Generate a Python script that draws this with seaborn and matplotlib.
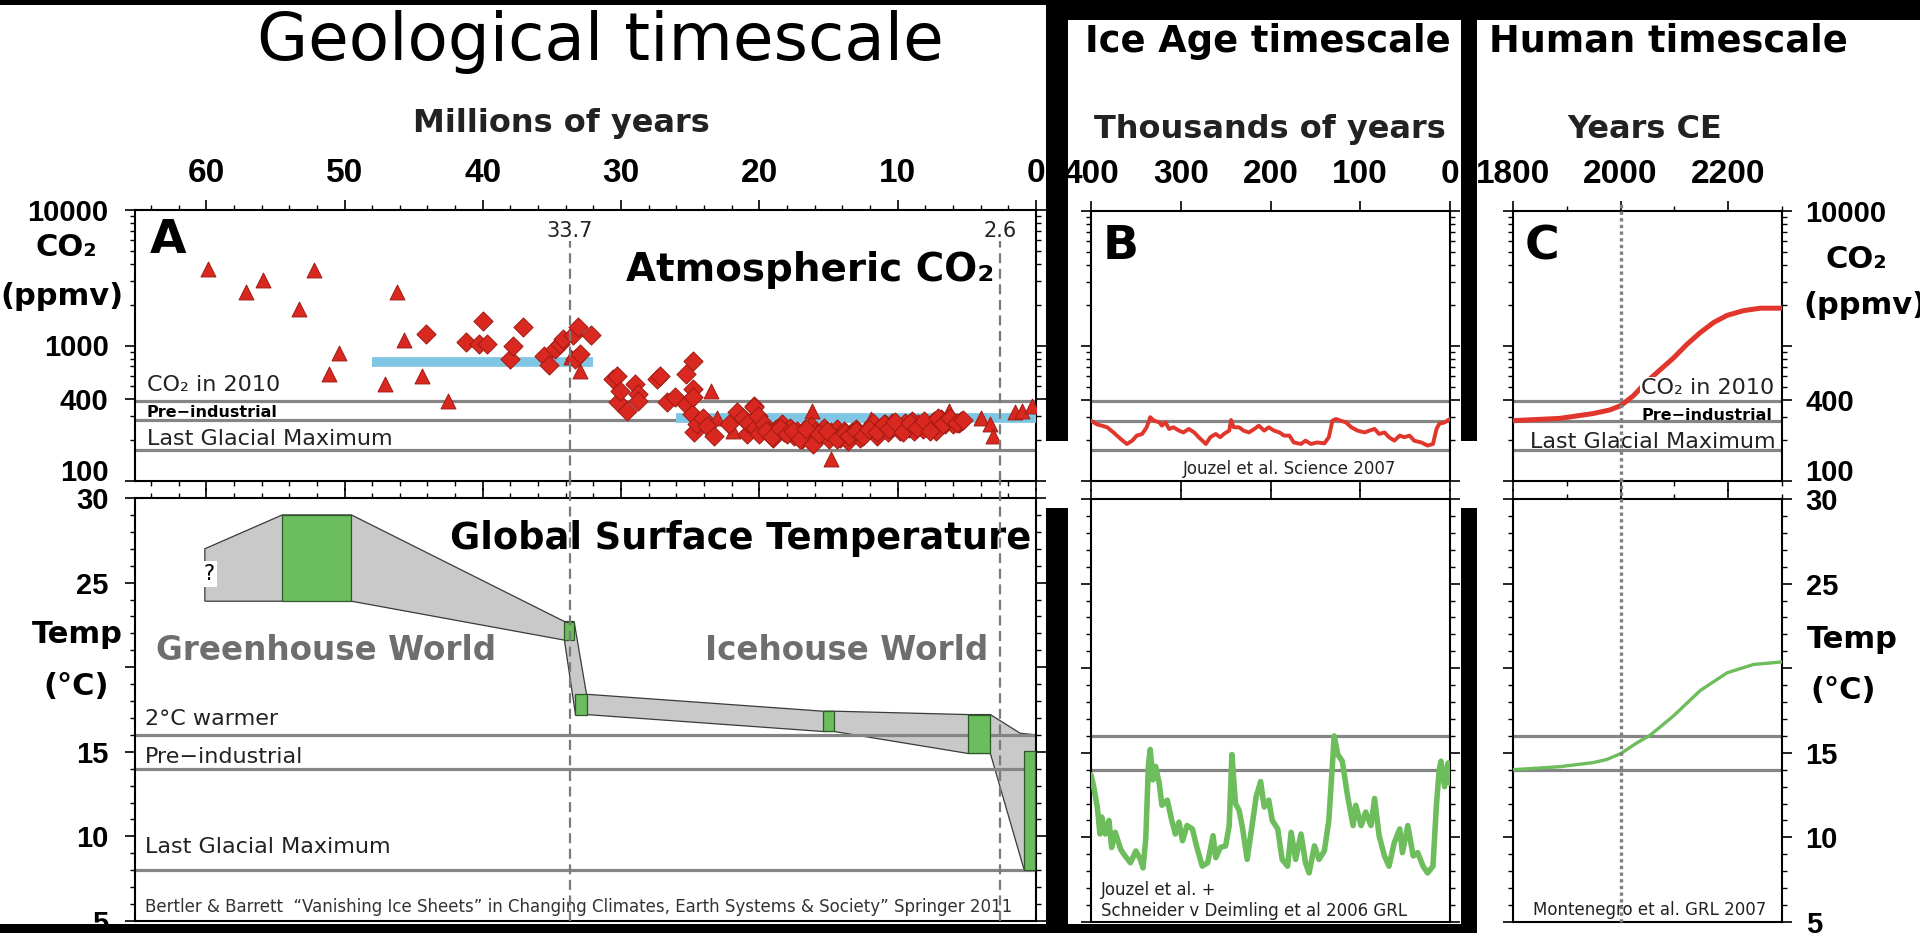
import numpy as np
import matplotlib
matplotlib.use("Agg")
import matplotlib.pyplot as plt
import seaborn as sns
from matplotlib.patches import Rectangle
from matplotlib.ticker import (FixedLocator, FixedFormatter, LogLocator,
                               MultipleLocator, NullFormatter)

sns.set_theme(style="ticks")
plt.rcParams["font.family"] = ["DejaVu Sans"]
plt.rcParams["axes.linewidth"] = 1.5
plt.rcParams["axes.edgecolor"] = "black"
plt.rcParams["text.color"] = "black"
plt.rcParams["xtick.color"] = "black"
plt.rcParams["ytick.color"] = "black"

W, H = 1920, 933
RED = "#d9281f"
RED_EDGE = "#a01a14"
BLUE = "#7fc6e4"
GREEN = "#6cbd5e"
GRAY_LINE = "#858585"
TICK_FONT = "Liberation Sans"

# ---------------- data ----------------
# Panel A - CO2 proxies (Myr before present, ppmv)
tri_age = [59.9, 57.1, 55.9, 53.3, 52.2, 51.1, 50.4, 47.1, 46.2, 45.7, 44.4, 42.5,
           33.6, 33.0, 23.5, 23.1, 21.9, 16.2, 14.8, 11.9, 6.3, 4.0, 3.3, 3.1,
           1.5, 1.0, 0.3]
tri_co2 = [3640, 2480, 3030, 1850, 3590, 620, 880, 520, 2480, 1090, 600, 390,
           820, 650, 464, 294, 234, 330, 145, 285, 330, 294, 263, 215,
           321, 330, 359]

dia_age = [44.1, 41.2, 40.3, 40.0, 39.7, 38.0, 37.8, 37.1, 35.6, 35.2, 34.8, 34.4,
           34.2, 33.5, 33.3, 33.1, 33.0, 32.2,
           30.6, 30.3, 30.2, 30.1, 29.6, 29.0, 28.8, 28.8, 27.4, 27.2, 26.7, 26.1,
           25.3, 25.3, 24.9, 24.8, 24.8, 24.8, 24.7, 24.5, 24.1, 23.8, 23.3, 22.2,
           21.6, 21.0, 20.9, 20.4, 20.2,
           21.2, 20.8, 20.4, 20.3, 20.1, 20.0, 19.7, 19.4, 19.0, 18.8, 18.4, 18.2,
           17.8, 17.5, 17.3, 16.9, 16.7, 16.3, 16.2, 16.0, 15.6, 15.3, 15.0, 14.8,
           14.4, 14.2, 13.9, 13.6, 13.3, 13.0, 12.7, 12.4, 12.0, 11.8, 11.5, 11.3,
           10.9, 10.7, 10.4, 10.1, 9.8, 9.5, 9.2, 9.0, 8.8, 8.5, 8.2, 7.8,
           7.4, 7.2, 6.9, 6.6, 6.3, 6.0, 5.6, 5.4,
           19.5, 19.1, 18.5, 18.0, 17.6, 17.1, 16.6, 16.1, 15.7, 15.1, 14.4, 13.8,
           13.5, 13.0, 12.5, 12.1, 11.5, 11.0, 10.6, 10.2, 9.6, 9.1, 8.6, 8.1,
           7.7, 7.1, 6.7, 6.2, 5.7, 5.3]
dia_co2 = [1220, 1060, 1030, 1510, 1020, 800, 1000, 1370, 830, 720, 950, 1030,
           1120, 1190, 800, 1370, 870, 1190,
           567, 600, 380, 464, 330, 520, 439, 391, 567, 600, 380, 414,
           617, 370, 312, 774, 478, 414, 228, 263, 294, 255, 215, 263,
           321, 278, 222, 359, 303,
           294, 270, 349, 248, 303, 222, 263, 235, 209, 241, 263, 228,
           248, 215, 235, 204, 241, 256, 198, 228, 215, 248, 204, 228,
           241, 209, 235, 198, 228, 241, 209, 228, 248, 270, 215, 248,
           263, 228, 270, 256, 235, 270, 248, 278, 235, 263, 241, 256,
           278, 235, 286, 263, 286, 263, 270, 278,
           235, 212, 248, 222, 232, 203, 241, 187, 224, 235, 203, 226,
           215, 235, 215, 244, 228, 263, 241, 272, 228, 266, 248, 278,
           235, 290, 263, 294, 270, 282]

bar_start = [48.0, 26.0]
bar_end = [32.0, 0.0]
bar_co2 = [760, 290]

co2_ref = [390, 280, 170]
temp_ref = [16, 14, 8]
event_age = [33.7, 2.6]

# Panel A - temperature envelope and estimate boxes (Myr, deg C)
band_up_age = [60.1, 54.5, 49.5, 34.1, 33.4, 32.5, 15.4, 14.6, 4.9, 3.3, 1.15, 0.0]
band_up_temp = [27.0, 29.0, 29.0, 22.7, 22.7, 18.4, 17.4, 17.4, 17.2, 17.2, 16.1, 16.0]
band_lo_age = [60.1, 54.5, 49.5, 34.1, 33.3, 32.5, 15.4, 14.6, 4.9, 3.3, 0.85, 0.0]
band_lo_temp = [23.9, 23.9, 23.9, 21.6, 17.2, 17.2, 16.2, 16.2, 14.9, 14.9, 8.0, 8.0]

box_old = [54.5, 34.1, 33.3, 15.4, 4.9, 0.85]
box_young = [49.5, 33.4, 32.5, 14.6, 3.3, 0.05]
box_low = [23.9, 21.6, 17.2, 16.2, 14.9, 8.0]
box_high = [29.0, 22.7, 18.4, 17.4, 17.2, 15.05]

# Panel B - ice core (thousands of years, ppmv / deg C)
b_co2_age = [400, 393, 388, 382, 375, 367, 360, 354, 349, 343, 338, 334, 330, 324,
             321, 317, 313, 308, 302, 297, 291, 285, 280, 272, 267, 261, 256, 252,
             246, 244, 241, 235, 230, 224, 218, 213, 207, 202, 196, 190, 185, 179,
             174, 166, 161, 155, 148, 140, 135, 131, 127, 122, 116, 110, 103, 95,
             90, 84, 79, 73, 68, 62, 56, 51, 45, 40, 32, 25, 19, 15, 12, 6, 0]
b_co2_ppm = [280, 262, 257, 250, 229, 205, 188, 199, 217, 223, 250, 297, 280, 272,
             257, 272, 243, 250, 236, 229, 243, 229, 211, 188, 211, 223, 211, 223,
             236, 283, 250, 250, 236, 229, 243, 257, 236, 250, 236, 229, 217, 217,
             193, 188, 199, 188, 193, 190, 211, 280, 288, 280, 272, 250, 236, 229,
             236, 243, 223, 229, 211, 199, 217, 211, 217, 199, 193, 183, 188, 243,
             265, 272, 288]

b_t_age = [400, 397, 393, 390, 388, 384, 380, 377, 373, 367, 362, 356, 350, 345,
           342, 339, 336, 334, 331, 328, 324, 321, 315, 310, 306, 302, 298, 293,
           287, 282, 276, 270, 264, 261, 256, 250, 246, 243, 239, 235, 231, 226,
           220, 216, 211, 207, 202, 198, 192, 187, 181, 177, 172, 166, 161, 157,
           151, 146, 140, 135, 129, 125, 120, 114, 108, 105, 99, 94, 88, 84,
           79, 73, 68, 62, 56, 53, 47, 41, 36, 30, 25, 19, 15, 12, 10, 6, 2, 0]
b_temp = [13.7, 13.0, 11.8, 10.2, 11.2, 10.2, 11.0, 9.4, 10.3, 9.3, 8.9, 8.5, 9.2, 8.7,
          8.2, 9.9, 14.3, 15.2, 13.4, 14.2, 13.2, 11.9, 12.2, 11.0, 10.2, 10.9, 9.8, 10.7,
          10.5, 9.4, 8.3, 8.5, 10.1, 8.8, 9.4, 9.5, 10.7, 14.9, 12.0, 11.6, 10.5, 8.7,
          10.9, 12.4, 13.3, 11.8, 12.2, 11.0, 10.5, 8.7, 8.3, 10.3, 8.7, 10.2, 8.5, 7.9,
          9.5, 8.7, 9.2, 11.0, 16.0, 14.9, 14.5, 12.4, 10.7, 11.9, 10.7, 11.5, 10.7, 12.3,
          10.1, 8.9, 8.3, 9.7, 10.5, 9.1, 10.7, 8.9, 9.1, 8.3, 7.9, 8.3, 12.0, 14.0,
          14.5, 13.0, 14.4, 13.2]

# Panel C - projection (years CE)
c_year = [1800, 1887, 1949, 1980, 2000, 2024, 2048, 2073, 2098, 2123, 2148, 2173,
          2198, 2229, 2260, 2300]
c_co2 = [280, 291, 316, 336, 361, 429, 541, 664, 813, 1026, 1257, 1494,
         1687, 1830, 1906, 1906]
c_t_year = [1800, 1887, 1949, 1974, 2000, 2030, 2055, 2098, 2148, 2198, 2247, 2300]
c_temp = [14.0, 14.18, 14.42, 14.6, 14.95, 15.58, 16.04, 17.17, 18.68, 19.73, 20.22, 20.37]


# ---------------- helpers ----------------
def px_box(x0, y0, x1, y1):
    return [x0 / W, 1 - y1 / H, (x1 - x0) / W, (y1 - y0) / H]


def frame(ax):
    ax.set_facecolor("white")
    for s in ax.spines.values():
        s.set_visible(True)
        s.set_color("black")
        s.set_linewidth(1.5)
    ax.tick_params(which="major", direction="out", length=7, width=1.2, color="black")
    ax.tick_params(which="minor", direction="out", length=3.5, width=1.0, color="black")


def co2_axis(ax, labels):
    ax.set_yscale("log")
    ax.set_ylim(100, 10000)
    ax.yaxis.set_major_locator(FixedLocator([100, 400, 1000, 10000]))
    ax.yaxis.set_major_formatter(FixedFormatter(labels))
    ax.yaxis.set_minor_locator(LogLocator(base=10, subs=np.arange(2, 10)))
    ax.yaxis.set_minor_formatter(NullFormatter())


def temp_axis(ax):
    ax.set_ylim(5, 30)
    ax.yaxis.set_major_locator(FixedLocator([5, 10, 15, 20, 25, 30]))
    ax.yaxis.set_major_formatter(FixedFormatter(["5", "10", "15", "", "25", "30"]))
    ax.yaxis.set_minor_locator(MultipleLocator(1))


def tick_font(labels, size):
    plt.setp(labels, fontfamily=TICK_FONT, fontweight="bold", fontsize=size, color="black")


def lift_bottom_label(ax):
    # the "100" label sits a little above its tick, clear of the "30" below
    for lab in ax.get_yticklabels():
        if lab.get_text() == "100":
            lab.set_verticalalignment("baseline")


def ref_lines(ax, levels):
    for v in levels:
        ax.axhline(v, color=GRAY_LINE, lw=2.3, zorder=2)


fig = plt.figure(figsize=(W / 100, H / 100), dpi=100)
fig.patch.set_facecolor("white")

# ================= Panel A =================
axA = fig.add_axes(px_box(135, 210, 1036, 481))
axAt = fig.add_axes(px_box(135, 498, 1036, 921))
for ax in (axA, axAt):
    frame(ax)

ref_lines(axA, co2_ref)
axA.hlines(bar_co2, bar_start, bar_end, color=BLUE, lw=7, zorder=3)
sns.scatterplot(x=tri_age, y=tri_co2, marker="^", s=115, color=RED,
                edgecolor=RED_EDGE, linewidth=0.7, ax=axA, zorder=5)
sns.scatterplot(x=dia_age, y=dia_co2, marker="D", s=95, color=RED,
                edgecolor=RED_EDGE, linewidth=0.7, ax=axA, zorder=5)
for a in event_age:
    axA.axvline(a, ymin=0, ymax=0.885, color="#7a7a7a", lw=1.6,
                ls=(0, (4.5, 2.5)), zorder=8)
    axAt.axvline(a, ymin=0, ymax=1.05, color="#7a7a7a", lw=1.6,
                 ls=(0, (4.5, 2.5)), zorder=8, clip_on=False)
    axA.text(a, 0.90, f"{a}", transform=axA.get_xaxis_transform(), ha="center",
             va="baseline", fontsize=15, color="#222222")

co2_axis(axA, ["100", "400", "1000", "10000"])
axA.set_xlim(65.15, 0)
axA.xaxis.set_major_locator(MultipleLocator(10))
axA.xaxis.set_minor_locator(MultipleLocator(2))
axA.tick_params(axis="x", which="both", top=True, bottom=True, labeltop=True,
                labelbottom=False, pad=8)
axA.tick_params(axis="y", which="both", left=True, right=True, labelleft=True,
                labelright=False, pad=12)
tick_font(axA.get_xticklabels(), 24)
tick_font(axA.get_yticklabels(), 21)
lift_bottom_label(axA)

axA.text(0.016, 0.84, "A", transform=axA.transAxes, fontsize=34,
         fontweight="bold", va="baseline")
axA.text(3.0, 0.738, "Atmospheric CO₂", transform=axA.get_xaxis_transform(),
         ha="right", va="baseline", fontsize=28, fontweight="bold")
axA.text(64.3, 460, "CO₂ in 2010", fontsize=16, va="baseline", color="#222222")
axA.text(64.3, 297, "Pre−industrial", fontsize=11.5, fontweight="bold",
         va="baseline")
axA.text(64.3, 184, "Last Glacial Maximum", fontsize=16, va="baseline",
         color="#222222")
axA.text(-0.0766, 5250, "CO₂", transform=axA.get_yaxis_transform(), ha="center",
         va="center", fontsize=22, fontweight="bold")
axA.text(-0.081, 2280, "(ppmv)", transform=axA.get_yaxis_transform(), ha="center",
         va="center", fontsize=22, fontweight="bold")

# temperature envelope
band_x = list(band_up_age) + list(band_lo_age[::-1])
band_y = list(band_up_temp) + list(band_lo_temp[::-1])
axAt.fill(band_x, band_y, facecolor="#c9c9c9", edgecolor="#3a3a3a", lw=0.9, zorder=1)
ref_lines(axAt, temp_ref)
axAt.bar(box_old, np.subtract(box_high, box_low), width=np.subtract(box_young, box_old),
         bottom=box_low, align="edge", color=GREEN, edgecolor="#2e5a28", lw=0.9, zorder=4)

temp_axis(axAt)
axAt.set_xlim(65.15, 0)
axAt.xaxis.set_major_locator(MultipleLocator(10))
axAt.xaxis.set_minor_locator(MultipleLocator(2))
axAt.tick_params(axis="x", which="both", top=True, bottom=False, labeltop=False,
                 labelbottom=False)
axAt.tick_params(axis="y", which="both", left=True, right=True, labelleft=True,
                 labelright=False, pad=12)
tick_font(axAt.get_yticklabels(), 21)

axAt.text(59.8, 25.5, "?", ha="center", va="center", fontsize=15, zorder=6,
          bbox=dict(facecolor="white", edgecolor="none", pad=2))
axAt.text(0.36, 27.0, "Global Surface Temperature", ha="right", va="baseline",
          fontsize=26.5, fontweight="bold", zorder=5)
axAt.text(63.6, 20.4, "Greenhouse World", va="baseline", fontsize=23.5,
          fontweight="bold", color="#6e6e6e", zorder=5)
axAt.text(23.9, 20.4, "Icehouse World", va="baseline", fontsize=23.5,
          fontweight="bold", color="#6e6e6e", zorder=5)
axAt.text(64.4, 16.58, "2°C warmer", va="baseline", fontsize=16, color="#222222")
axAt.text(64.4, 14.36, "Pre−industrial", va="baseline", fontsize=16, color="#222222")
axAt.text(64.4, 9.0, "Last Glacial Maximum", va="baseline", fontsize=16,
          color="#222222")
axAt.text(64.4, 5.55, "Bertler & Barrett  “Vanishing Ice Sheets” in Changing Climates, "
          "Earth Systems & Society” Springer 2011", va="baseline", fontsize=12,
          color="#333333")
axAt.text(-0.0644, 21.96, "Temp", transform=axAt.get_yaxis_transform(), ha="center",
          va="center", fontsize=22, fontweight="bold")
axAt.text(-0.0655, 18.83, "(°C)", transform=axAt.get_yaxis_transform(), ha="center",
          va="center", fontsize=22, fontweight="bold")

# ================= Panel B =================
axB = fig.add_axes(px_box(1091, 211, 1450, 481))
axBt = fig.add_axes(px_box(1091, 499, 1450, 922))
for ax in (axB, axBt):
    frame(ax)

ref_lines(axB, co2_ref)
sns.lineplot(x=b_co2_age, y=b_co2_ppm, color="#e0362c", lw=2.8, ax=axB,
             estimator=None, sort=False, zorder=4)
co2_axis(axB, ["", "", "", ""])
axB.set_xlim(400, 0)
axB.xaxis.set_major_locator(FixedLocator([400, 300, 200, 100, 0]))
axB.xaxis.set_major_formatter(FixedFormatter(["400", "300", "200", "100", "0"]))
axB.tick_params(axis="x", which="both", top=True, bottom=True, labeltop=True,
                labelbottom=False, pad=8)
axB.tick_params(axis="y", which="both", left=True, right=True, labelleft=False,
                labelright=False)
tick_font(axB.get_xticklabels(), 24)
axB.text(0.031, 0.822, "B", transform=axB.transAxes, fontsize=34,
         fontweight="bold", va="baseline")
axB.text(298, 113, "Jouzel et al. Science 2007", fontsize=12, va="baseline",
         color="#222222")

ref_lines(axBt, temp_ref[:2])
sns.lineplot(x=b_t_age, y=b_temp, color="#6dbd5c", lw=4, ax=axBt,
             estimator=None, sort=False, zorder=4)
temp_axis(axBt)
axBt.yaxis.set_major_formatter(NullFormatter())
axBt.set_xlim(400, 0)
axBt.xaxis.set_major_locator(FixedLocator([400, 300, 200, 100, 0]))
axBt.tick_params(axis="x", which="both", top=True, bottom=False, labeltop=False,
                 labelbottom=False)
axBt.tick_params(axis="y", which="both", left=True, right=True, labelleft=False,
                 labelright=False)
axBt.text(389, 6.57, "Jouzel et al. +", fontsize=12, va="baseline", color="#222222")
axBt.text(389, 5.35, "Schneider v Deimling et al 2006 GRL", fontsize=12,
          va="baseline", color="#222222")

# ================= Panel C =================
axC = fig.add_axes(px_box(1513, 211, 1782, 481))
axCt = fig.add_axes(px_box(1513, 499, 1782, 922))
for ax in (axC, axCt):
    frame(ax)

ref_lines(axC, co2_ref)
sns.lineplot(x=c_year, y=c_co2, color="#e0362c", lw=3.6, ax=axC,
             estimator=None, sort=False, zorder=4)
co2_axis(axC, ["100", "400", "", "10000"])
axC.set_xlim(1800, 2300)
axC.xaxis.set_major_locator(FixedLocator([1800, 2000, 2200]))
axC.xaxis.set_major_formatter(FixedFormatter(["1800", "2000", "2200"]))
axC.xaxis.set_minor_locator(FixedLocator([1900, 2100, 2300]))
axC.tick_params(axis="x", which="both", top=True, bottom=True, labeltop=True,
                labelbottom=False, pad=8)
axC.tick_params(axis="y", which="both", left=True, right=True, labelleft=False,
                labelright=True, pad=10)
tick_font(axC.get_xticklabels(), 24)
tick_font(axC.get_yticklabels(), 21)
lift_bottom_label(axC)
axC.axvline(2000, ymin=0, ymax=1.03, color="#808080", lw=2.4, ls=(0, (1, 1)),
            zorder=6, clip_on=False)
axC.text(0.045, 0.822, "C", transform=axC.transAxes, fontsize=34,
         fontweight="bold", va="baseline")
axC.text(2286, 441, "CO₂ in 2010", fontsize=16, ha="right", va="baseline",
         color="#222222", zorder=5,
         bbox=dict(facecolor="white", edgecolor="none", pad=1))
axC.text(2283, 285, "Pre−industrial", fontsize=11.5, fontweight="bold", ha="right",
         va="baseline", zorder=5)
axC.text(2288, 175, "Last Glacial Maximum", fontsize=16, ha="right", va="baseline",
         color="#222222", zorder=5)
axC.text(1.275, 4400, "CO₂", transform=axC.get_yaxis_transform(), ha="center",
         va="center", fontsize=22, fontweight="bold")
axC.text(1.309, 1980, "(ppmv)", transform=axC.get_yaxis_transform(), ha="center",
         va="center", fontsize=22, fontweight="bold")

ref_lines(axCt, temp_ref[:2])
sns.lineplot(x=c_t_year, y=c_temp, color="#6dbd5c", lw=2.4, ax=axCt,
             estimator=None, sort=False, zorder=4)
temp_axis(axCt)
axCt.set_xlim(1800, 2300)
axCt.xaxis.set_major_locator(FixedLocator([1800, 2000, 2200]))
axCt.xaxis.set_minor_locator(FixedLocator([1900, 2100, 2300]))
axCt.tick_params(axis="x", which="both", top=True, bottom=False, labeltop=False,
                 labelbottom=False)
axCt.tick_params(axis="y", which="both", left=True, right=True, labelleft=False,
                 labelright=True, pad=10)
tick_font(axCt.get_yticklabels(), 21)
axCt.axvline(2000, ymin=0, ymax=1.05, color="#808080", lw=2.4, ls=(0, (1, 1)),
             zorder=6, clip_on=False)
axCt.text(1837, 5.44, "Montenegro et al. GRL 2007", fontsize=12, va="baseline",
          color="#222222")
axCt.text(1.260, 21.67, "Temp", transform=axCt.get_yaxis_transform(), ha="center",
          va="center", fontsize=22, fontweight="bold")
axCt.text(1.227, 18.71, "(°C)", transform=axCt.get_yaxis_transform(), ha="center",
          va="center", fontsize=22, fontweight="bold")

for ax in (axA, axAt, axB, axBt, axC, axCt):
    ax.set_xlabel("")
    ax.set_ylabel("")

# ---------------- titles ----------------
fig.text(600 / W, 1 - 60 / H, "Geological timescale", ha="center", va="baseline",
         fontsize=47.5)
fig.text(1268 / W, 1 - 52 / H, "Ice Age timescale", ha="center", va="baseline",
         fontsize=26.5, fontweight="bold")
fig.text(1668 / W, 1 - 51 / H, "Human timescale", ha="center", va="baseline",
         fontsize=26.5, fontweight="bold")
fig.text(561 / W, 1 - 132 / H, "Millions of years", ha="center", va="baseline",
         fontsize=23, fontweight="bold", color="#222222")
fig.text(1270 / W, 1 - 138 / H, "Thousands of years", ha="center", va="baseline",
         fontsize=23, fontweight="bold", color="#222222")
fig.text(1645 / W, 1 - 138 / H, "Years CE", ha="center", va="baseline",
         fontsize=23, fontweight="bold", color="#222222")

# ---------------- black frame pieces ----------------
black_blocks = [
    (0, 0, 1047, 5), (1047, 0, 1920, 20),
    (1046, 0, 1068, 441), (1046, 508, 1068, 933),
    (1461, 0, 1477, 441), (1461, 508, 1477, 933),
    (0, 924, 1477, 933),
]
for x0, y0, x1, y1 in black_blocks:
    fig.add_artist(Rectangle((x0 / W, 1 - y1 / H), (x1 - x0) / W, (y1 - y0) / H,
                             transform=fig.transFigure, facecolor="black",
                             edgecolor="none", zorder=20))

fig.savefig("out.png", dpi=100, facecolor="white")
